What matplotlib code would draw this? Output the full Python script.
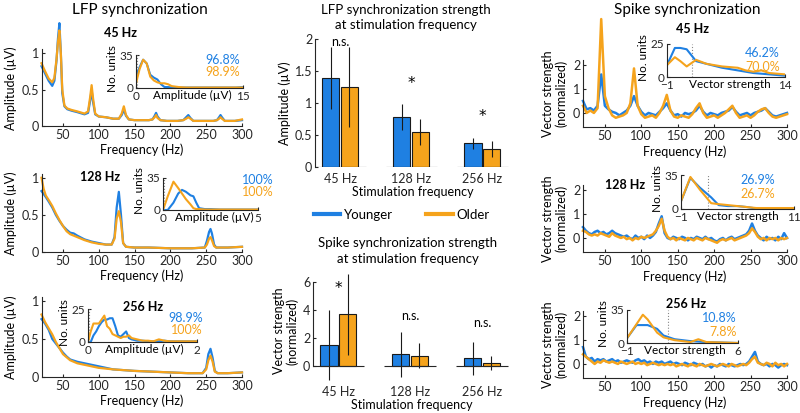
import numpy as np
import matplotlib
matplotlib.use("Agg")
import matplotlib.pyplot as plt
from matplotlib.lines import Line2D

plt.rcParams["font.family"] = ["Lato", "DejaVu Sans"]
plt.rcParams["font.size"] = 9

BLUE = "#1f80e2"
ORANGE = "#f5a31c"
DARK = "#262626"

# ---- LFP spectra (amplitude, uV) ----
f_lfp45 = [20, 25, 30, 35, 38, 41, 43, 45, 47, 49, 52, 56, 62, 70, 80, 85, 88, 90, 92, 95,
           100, 110, 120, 128, 132, 135, 138, 142, 150, 160, 170, 175, 178, 180, 182, 186,
           195, 210, 218, 222, 225, 228, 232, 245, 260, 265, 268, 270, 272, 276, 290, 300]
lfp45_young = [0.82, 0.72, 0.62, 0.55, 0.62, 0.9, 1.2, 1.41, 1.0, 0.45, 0.27, 0.23, 0.21, 0.19,
               0.16, 0.18, 0.35, 0.49, 0.33, 0.16, 0.13, 0.12, 0.1, 0.1, 0.15, 0.22, 0.14, 0.09,
               0.08, 0.08, 0.08, 0.09, 0.14, 0.18, 0.13, 0.08, 0.07, 0.07, 0.08, 0.12, 0.15, 0.11,
               0.07, 0.07, 0.07, 0.08, 0.12, 0.15, 0.12, 0.07, 0.07, 0.08]
lfp45_old = [0.86, 0.75, 0.65, 0.6, 0.66, 0.92, 1.15, 1.31, 1.0, 0.5, 0.28, 0.24, 0.22, 0.2,
             0.17, 0.2, 0.4, 0.56, 0.38, 0.17, 0.13, 0.12, 0.1, 0.1, 0.17, 0.27, 0.15, 0.09,
             0.08, 0.08, 0.08, 0.09, 0.12, 0.15, 0.11, 0.08, 0.07, 0.07, 0.08, 0.1, 0.12, 0.1,
             0.07, 0.07, 0.07, 0.08, 0.1, 0.12, 0.1, 0.07, 0.07, 0.09]

f_lfp128 = [20, 23, 26, 30, 35, 40, 45, 50, 55, 60, 65, 70, 80, 90, 100, 110, 118, 122, 125, 128,
            131, 134, 138, 150, 170, 200, 230, 248, 251, 254, 256, 258, 261, 264, 280, 300]
lfp128_young = [0.82, 0.78, 0.74, 0.68, 0.6, 0.5, 0.42, 0.35, 0.3, 0.26, 0.25, 0.22, 0.17, 0.14,
                0.12, 0.1, 0.1, 0.2, 0.6, 0.81, 0.5, 0.12, 0.07, 0.06, 0.06, 0.05, 0.05, 0.06,
                0.15, 0.27, 0.31, 0.25, 0.1, 0.06, 0.06, 0.07]
lfp128_old = [1.0, 0.85, 0.76, 0.7, 0.62, 0.52, 0.43, 0.35, 0.28, 0.24, 0.22, 0.2, 0.16, 0.13,
              0.11, 0.1, 0.1, 0.18, 0.45, 0.55, 0.4, 0.12, 0.07, 0.06, 0.06, 0.05, 0.05, 0.06,
              0.1, 0.18, 0.2, 0.16, 0.08, 0.06, 0.06, 0.07]

f_lfp256 = [20, 25, 30, 35, 40, 45, 50, 55, 60, 70, 80, 90, 100, 110, 120, 135, 150, 175, 200,
            225, 245, 250, 253, 256, 259, 262, 266, 280, 300]
lfp256_young = [0.76, 0.7, 0.62, 0.5, 0.44, 0.38, 0.32, 0.27, 0.23, 0.2, 0.18, 0.16, 0.14, 0.12,
                0.1, 0.09, 0.08, 0.07, 0.06, 0.05, 0.05, 0.12, 0.3, 0.37, 0.25, 0.08, 0.05, 0.05, 0.06]
lfp256_old = [0.82, 0.72, 0.64, 0.56, 0.46, 0.38, 0.3, 0.26, 0.22, 0.18, 0.16, 0.14, 0.12, 0.11,
              0.1, 0.09, 0.08, 0.07, 0.06, 0.05, 0.05, 0.1, 0.22, 0.28, 0.2, 0.07, 0.05, 0.05, 0.06]

# ---- LFP inset histograms (no. units) ----
h_lfp45_x = [0, 0.5, 1, 1.5, 2, 2.5, 3, 3.5, 4, 4.5, 5, 6, 7, 8, 9, 10, 11, 12, 13, 14, 15]
h_lfp45_young = [12, 22, 30, 26, 14, 11, 9, 4, 1, 1, 0.5, 0.5, 0.5, 0.5, 0.5, 0.5, 0.5, 0.5, 0.5, 0.5, 1]
h_lfp45_old = [5, 20, 30, 26, 12, 8, 6, 5, 5, 4, 2, 1, 0.5, 0.5, 0.5, 0.5, 0.5, 0.5, 0.5, 0.5, 0.5]

h_lfp128_x = [0, 0.25, 0.55, 0.8, 1.0, 1.2, 1.45, 1.6, 1.75, 1.9, 2.2, 2.5, 3, 3.5, 4, 4.5, 5]
h_lfp128_young = [0, 0, 8, 18, 22, 20, 16, 15, 8, 2, 1, 1, 0.5, 0.5, 0.5, 0.5, 0.5]
h_lfp128_old = [0, 15, 31, 24, 18, 12, 6, 2, 1, 1, 0.5, 0.5, 0.5, 0.5, 0.5, 0.5, 0.5]

h_lfp256_x = [0, 0.05, 0.1, 0.15, 0.2, 0.25, 0.3, 0.35, 0.4, 0.45, 0.5, 0.55, 0.6, 0.65, 0.7,
              0.75, 0.8, 0.9, 1.0, 1.1, 1.2, 1.3, 1.4, 1.5, 1.6, 1.8, 2.0]
h_lfp256_young = [0, 0, 5, 8, 12, 15, 17, 17, 18, 18, 12, 5, 4, 6, 8, 3, 2, 1, 1, 0.5, 0.5, 0.5,
                  1, 0.5, 0.5, 0.5, 0.5]
h_lfp256_old = [0, 8, 14, 14, 14, 17, 20, 12, 10, 6, 5, 4, 3, 4, 4, 5, 3, 2, 1, 1, 0.5, 2, 1,
                0.5, 0.5, 0.5, 0.5]

# ---- spike vector strength spectra (normalized) ----
f_spk45 = np.arange(20, 301, 5)
spk45_young = [0.5, 0.15, 0.2, 0.1, 0.3, 1.6, 0.3, 0.15, 0.05, 0.0, -0.1, 0.0, 0.1, 0.3, 0.7,
               0.3, 0.05, -0.1, 0.0, -0.05, -0.1, 0.05, 0.2, 0.4, 0.1, -0.1, -0.05, -0.15, 0.0,
               -0.05, 0.0, 0.1, 0.3, 0.05, -0.1, 0.0, -0.05, -0.1, 0.0, 0.05, 0.1, 0.25, 0.05,
               -0.1, -0.05, 0.0, -0.1, 0.0, 0.05, 0.1, 0.2, 0.05, -0.1, -0.15, -0.1, -0.05, 0.0]
spk45_old = [0.3, 0.0, 0.1, 0.0, 0.2, 3.9, 0.7, 0.2, -0.1, -0.2, -0.15, -0.1, 0.0, 0.4, 1.85,
             0.3, -0.05, -0.2, -0.15, -0.1, -0.2, 0.0, 0.3, 0.75, 0.1, -0.15, -0.2, -0.1, -0.15,
             -0.2, -0.05, 0.2, 0.4, 0.0, -0.2, -0.15, -0.1, -0.2, -0.1, 0.0, 0.15, 0.3, 0.0,
             -0.2, -0.15, -0.1, -0.2, -0.1, 0.05, 0.15, 0.2, 0.0, -0.15, -0.2, -0.15, -0.1, -0.05]

f_spk = np.arange(20, 301, 4)
spk128_young = [0.45, 0.3, 0.2, 0.15, 0.25, 0.3, 0.2, 0.25, 0.15, 0.2, 0.3, 0.2, 0.15, 0.1, 0.05,
                0.1, 0.0, -0.05, 0.1, 0.0, 0.05, -0.05, 0.1, 0.0, 0.1, 0.25, 0.6, 0.9, 0.2, 0.0,
                -0.05, 0.05, 0.0, -0.05, 0.05, 0.0, -0.1, 0.0, -0.05, 0.05, 0.0, -0.05, 0.05,
                -0.05, 0.0, -0.1, -0.15, -0.05, 0.0, -0.1, 0.0, 0.05, -0.05, 0.0, 0.05, 0.1, 0.15,
                0.3, 0.6, 0.3, 0.1, 0.0, -0.1, 0.05, -0.05, 0.0, -0.1, 0.05, -0.05, 0.2, 0.0]
spk128_old = [0.3, 0.25, 0.15, 0.1, 0.15, 0.1, 0.2, 0.15, 0.1, 0.05, 0.2, 0.1, 0.05, 0.0, 0.05,
              -0.05, 0.0, -0.1, 0.0, -0.05, 0.05, 0.0, 0.05, 0.1, 0.15, 0.3, 0.5, 0.8, 0.3, 0.05,
              -0.05, 0.0, -0.1, 0.0, -0.05, -0.1, 0.0, -0.05, -0.1, 0.0, -0.05, -0.1, 0.0, -0.05,
              -0.1, -0.15, -0.2, -0.1, -0.05, -0.1, -0.05, 0.0, -0.1, -0.05, 0.0, 0.05, 0.1, 0.2,
              0.4, 0.25, 0.05, -0.05, 0.0, -0.1, 0.0, -0.05, 0.0, -0.1, 0.0, -0.05, 0.0]
spk256_young = [0.7, 0.3, 0.2, 0.25, 0.1, 0.2, 0.15, 0.2, 0.1, 0.15, 0.2, 0.1, 0.15, 0.05, 0.1,
                0.15, 0.1, 0.05, 0.15, 0.2, 0.1, 0.15, 0.05, 0.1, 0.0, 0.1, 0.05, 0.1, 0.0, 0.05,
                0.1, 0.0, 0.05, 0.0, -0.05, 0.05, 0.0, -0.05, 0.05, 0.0, -0.05, 0.0, -0.1, -0.05,
                -0.15, -0.05, -0.1, 0.0, -0.05, -0.1, 0.0, -0.05, -0.1, -0.05, 0.0, -0.05, 0.0,
                0.1, 0.3, 0.5, 0.1, 0.0, -0.05, 0.0, -0.1, 0.0, -0.05, -0.15, -0.05, 0.0, -0.05]
spk256_old = [0.4, 0.3, 0.2, 0.1, 0.0, 0.1, 0.05, 0.15, 0.1, 0.05, 0.1, 0.05, 0.0, 0.1, 0.05,
              0.0, 0.05, 0.1, 0.0, 0.05, 0.0, 0.05, -0.05, 0.0, 0.05, 0.0, -0.05, 0.0, -0.05, 0.0,
              -0.05, 0.0, -0.1, -0.05, 0.0, -0.05, -0.1, 0.0, -0.05, -0.1, 0.0, -0.05, -0.1, -0.05,
              0.0, -0.05, -0.1, -0.05, 0.0, -0.05, -0.1, 0.0, -0.05, -0.1, -0.05, 0.0, -0.05, 0.05,
              0.2, 0.3, 0.05, 0.0, -0.05, 0.05, 0.0, -0.1, 0.05, -0.05, 0.0, -0.1, 0.0]

# ---- spike inset histograms ----
h_spk45_x = [-1, 0, 0.7, 1.5, 2.7, 4, 6, 8, 9, 10, 11, 12, 14]
h_spk45_young = [9, 22, 22, 21, 12, 10, 7, 5, 4, 3, 2.5, 2, 1]
h_spk45_old = [9, 15, 12, 8, 13, 10, 8, 7, 5, 4, 5, 3, 2]
h_spk128_x = [-1, 0, 1, 2.2, 3, 4, 5, 6, 7, 8, 9, 10, 11]
h_spk128_young = [8, 32, 22, 12, 4, 3, 3, 2, 0.5, 0.5, 0.5, 0.5, 0]
h_spk128_old = [8, 33, 20, 6, 5, 4, 3, 2, 1, 1, 1, 1, 1]
h_spk256_x = [-1, -0.4, 0, 0.3, 0.9, 1.3, 2, 2.5, 3, 3.5, 4, 5, 6]
h_spk256_young = [5, 19, 19, 19, 15, 8, 4, 3, 2, 1.5, 1, 0.5, 0]
h_spk256_old = [5, 20, 30, 25, 11, 6, 3, 2, 1, 4, 1, 0.5, 0]

# ---- bar charts ----
stim_labels = ["45 Hz", "128 Hz", "256 Hz"]
lfp_bar_young = [1.39, 0.78, 0.37]
lfp_err_young = [0.48, 0.2, 0.09]
lfp_bar_old = [1.25, 0.55, 0.28]
lfp_err_old = [0.62, 0.2, 0.12]
lfp_sig = ["n.s.", "*", "*"]
spk_bar_young = [1.5, 0.85, 0.55]
spk_err_young = [2.5, 1.6, 1.2]
spk_bar_old = [3.7, 0.75, 0.2]
spk_err_old = [2.9, 0.9, 0.5]
spk_sig = ["*", "n.s.", "n.s."]

pct_lfp = [("96.8%", "98.9%"), ("100%", "100%"), ("98.9%", "100%")]
pct_spk = [("46.2%", "70.0%"), ("26.9%", "26.7%"), ("10.8%", "7.8%")]
thr_lfp = [0.15, 0.05, 0.02]
thr_spk = [2.2, 1.9, 1.6]

W, H = 800, 413
fig = plt.figure(figsize=(8, 4.13), dpi=100)


def box(x0, y0, x1, y1):
    return [x0 / W, 1 - y1 / H, (x1 - x0) / W, (y1 - y0) / H]


def ftext(x, y, s, **kw):
    fig.text(x / W, 1 - y / H, s, **kw)


def style(ax):
    for s in ["top", "right"]:
        ax.spines[s].set_visible(False)
    for s in ["left", "bottom"]:
        ax.spines[s].set_color(DARK)
        ax.spines[s].set_linewidth(0.8)
    ax.tick_params(direction="in", length=2.5, width=0.8, colors=DARK, pad=2)
    ax.patch.set_alpha(0)


def spectrum(rect, f, yv, ov, ylim, yticks, lw):
    ax = fig.add_axes(box(*rect))
    ax.plot(f, yv, color=BLUE, lw=lw, clip_on=False)
    ax.plot(f, ov, color=ORANGE, lw=lw, clip_on=False)
    ax.set_xlim(20, 300)
    ax.set_ylim(*ylim)
    ax.set_xticks([50, 100, 150, 200, 250, 300])
    ax.set_yticks(yticks)
    ax.set_yticklabels([f"{t:g}" for t in yticks])
    ax.set_xlabel("Frequency (Hz)", labelpad=2)
    style(ax)
    return ax


def inset(rect, x, yv, ov, xlim, ymax, thr, xlabel, lab_x):
    ax = fig.add_axes(box(*rect))
    ax.axvline(thr, color="#888888", ls=":", lw=0.8)
    ax.plot(x, yv, color=BLUE, lw=1.5)
    ax.plot(x, ov, color=ORANGE, lw=1.5)
    ax.set_xlim(*xlim)
    ax.set_ylim(0, ymax)
    ax.set_xticks(list(xlim))
    ax.set_xticklabels([f"{v:g}".replace("-", "\u2212") for v in xlim])
    ax.set_yticks([0, ymax])
    ax.set_ylabel("No. units", labelpad=1, fontsize=8.5, y=0.6)
    ax.text(lab_x, -0.06, xlabel, transform=ax.transAxes, ha="center", va="top", fontsize=8.5)
    style(ax)
    ax.tick_params(labelsize=8.5)
    ax.patch.set_alpha(1)
    ax.patch.set_facecolor("white")
    return ax


# ---- left column: LFP ----
lfp_rects = [(41.5, 49.4, 242, 126), (41.5, 174, 242, 252), (41.5, 297, 242, 377)]
lfp_data = [(f_lfp45, lfp45_young, lfp45_old), (f_lfp128, lfp128_young, lfp128_old),
            (f_lfp256, lfp256_young, lfp256_old)]
for r, (f, yv, ov) in zip(lfp_rects, lfp_data):
    ax = spectrum(r, f, yv, ov, (0, 1.05), [0, 0.5, 1], 1.6)
    ax.set_ylabel("Amplitude (\u00b5V)", labelpad=3)

ins_lfp = [
    ((136, 55, 243, 88), h_lfp45_x, h_lfp45_young, h_lfp45_old, (0, 15), 35, 0.53),
    ((163, 178, 258, 210), h_lfp128_x, h_lfp128_young, h_lfp128_old, (0, 5), 35, 0.54),
    ((88, 309, 197, 342), h_lfp256_x, h_lfp256_young, h_lfp256_old, (0, 2), 25, 0.52),
]
for (r, x, yv, ov, xl, ym, lx), thr in zip(ins_lfp, thr_lfp):
    inset(r, x, yv, ov, xl, ym, thr, "Amplitude (\u00b5V)", lx)

ftext(140, 10, "LFP synchronization", ha="center", va="center", fontsize=11)
for (x, y), lab in zip([(120, 33), (100, 177), (143, 307)], stim_labels):
    ftext(x, y, lab, ha="center", va="center", fontweight="bold", fontsize=9)
for (x, y), (a, b) in zip([(240, 60), (274, 180), (203, 318)], pct_lfp):
    ftext(x, y, a, ha="right", va="center", color=BLUE)
    ftext(x, y + 12, b, ha="right", va="center", color=ORANGE)

# ---- right column: spikes ----
spk_rects = [(583, 60, 787, 127.4), (583, 185, 787, 252.4), (583, 311, 787, 378.4)]
spk_data = [(f_spk45, spk45_young, spk45_old), (f_spk, spk128_young, spk128_old),
            (f_spk, spk256_young, spk256_old)]
for r, (f, yv, ov) in zip(spk_rects, spk_data):
    ax = spectrum(r, f, yv, ov, (-0.6, 2.2), [0, 1, 2], 1.8)
    ax.set_ylabel("Vector strength\n(normalized)", labelpad=4, linespacing=1.1)

ins_spk = [
    ((667, 44, 785, 77), h_spk45_x, h_spk45_young, h_spk45_old, (-1, 14), 25, 0.53),
    ((681, 175, 794, 209), h_spk128_x, h_spk128_young, h_spk128_old, (-1, 11), 35, 0.5),
    ((627, 310, 738, 343), h_spk256_x, h_spk256_young, h_spk256_old, (-1, 6), 35, 0.52),
]
for (r, x, yv, ov, xl, ym, lx), thr in zip(ins_spk, thr_spk):
    inset(r, x, yv, ov, xl, ym, thr, "Vector strength", lx)

ftext(687, 10, "Spike synchronization", ha="center", va="center", fontsize=11)
for (x, y), lab in zip([(693, 29), (625, 185), (686, 304)], stim_labels):
    ftext(x, y, lab, ha="center", va="center", fontweight="bold", fontsize=9)
for (x, y), (a, b) in zip([(780, 53), (775, 180), (737, 318)], pct_spk):
    ftext(x, y, a, ha="right", va="center", color=BLUE)
    ftext(x, y + 14, b, ha="right", va="center", color=ORANGE)


# ---- middle column: bars ----
def bars(rect, ym, ye, om, oe, sig, sig_y, ylim, yticks, ylabel):
    ax = fig.add_axes(box(*rect))
    g = np.arange(1, 4)
    kw = dict(width=0.24, edgecolor="#1a1a1a", linewidth=0.8, zorder=2)
    ax.bar(g - 0.13, ym, color=BLUE, **kw)
    ax.bar(g + 0.13, om, color=ORANGE, **kw)
    ekw = dict(fmt="none", ecolor="#1a1a1a", elinewidth=0.8, capsize=0, zorder=3, clip_on=False)
    ax.errorbar(g - 0.13, ym, yerr=ye, **ekw)
    ax.errorbar(g + 0.13, om, yerr=oe, **ekw)
    ax.hlines(np.zeros(3), g - 0.36, g + 0.36, color=DARK, lw=0.8, zorder=4)
    for gi, s, y in zip(g, sig, sig_y):
        if s == "*":
            ax.text(gi, y, s, ha="center", va="baseline", fontsize=11, family="DejaVu Sans")
        else:
            ax.text(gi, y, s, ha="center", va="center", fontsize=9)
    ax.set_xlim(0.648, 3.39)
    ax.set_ylim(*ylim)
    ax.set_yticks(yticks)
    ax.set_yticklabels([f"{t:g}" for t in yticks])
    ax.set_xticks(g)
    ax.set_xticklabels(stim_labels)
    style(ax)
    ax.spines["bottom"].set_visible(False)
    ax.spines["left"].set_bounds(0, ylim[1])
    ax.tick_params(axis="x", length=0, pad=4)
    ax.set_xlabel("Stimulation frequency", labelpad=1)
    ax.set_ylabel(ylabel, labelpad=3, linespacing=1.1)
    return ax


bars((315, 39, 510, 167), lfp_bar_young, lfp_err_young, lfp_bar_old, lfp_err_old,
     lfp_sig, [1.95, 1.23, 0.72], (0, 2), [0, 0.5, 1, 1.5, 2], "Amplitude (\u00b5V)")
bars((313, 282, 510, 380), spk_bar_young, spk_err_young, spk_bar_old, spk_err_old,
     spk_sig, [5.2, 3.6, 3.1], (-1.0, 6), [0, 2, 4, 6], "Vector strength\n(normalized)")

ftext(406, 10, "LFP synchronization strength", ha="center", va="center", fontsize=9.5)
ftext(406, 25, "at stimulation frequency", ha="center", va="center", fontsize=9.5)
ftext(408, 243, "Spike synchronization strength", ha="center", va="center", fontsize=9.5)
ftext(408, 259, "at stimulation frequency", ha="center", va="center", fontsize=9.5)

handles = [Line2D([], [], color=BLUE, lw=3), Line2D([], [], color=ORANGE, lw=3)]
fig.legend(handles, ["Younger", "Older"], loc="center", bbox_to_anchor=(402 / W, 1 - 215 / H),
           ncol=2, frameon=False, handlelength=2.0, columnspacing=2.5, handletextpad=0.3,
           fontsize=9.5)

fig.savefig("out.png", dpi=100)
